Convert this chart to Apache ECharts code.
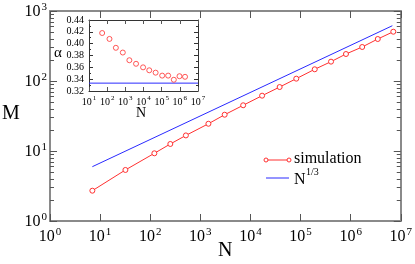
<!DOCTYPE html>
<html>
<head>
<meta charset="utf-8">
<script src="https://cdn.jsdelivr.net/npm/echarts@6/dist/echarts.min.js"></script>
<style>html,body{margin:0;padding:0;background:#fff}#c{width:415px;height:264px}</style>
</head>
<body>
<div id="c"></div>
<script>
// ---- data ----
const simN = [7, 32, 121, 252, 515, 1450, 3060, 7160, 17100, 38300, 82200, 192000, 406000, 807000, 1700000, 3480000, 7100000];
const simM = [2.71, 5.36, 9.27, 12.6, 16.7, 24.5, 33.0, 45.0, 61.7, 82.0, 108, 147, 189, 243, 306, 398, 506];
const refN = [7, 6800000];
const refM = [5.97, 616];
const insetN = [53, 134, 301, 726, 1667, 3881, 9484, 20750, 46450, 106700, 227500, 466700, 957200, 1936000];
const insetAlpha = [0.418, 0.408, 0.393, 0.385, 0.372, 0.366, 0.360, 0.355, 0.351, 0.346, 0.346, 0.339, 0.345, 0.344];
const insetRefN = [10, 10000000];
const insetRefAlpha = [0.3333, 0.3333];
const mainXTicks = [1, 10, 100, 1000, 10000, 100000, 1000000, 10000000];
const mainYTicks = [1, 10, 100, 1000];
const insetXTicks = [10, 100, 1000, 10000, 100000, 1000000, 10000000];
const insetYTicks = [0.32, 0.34, 0.36, 0.38, 0.40, 0.42, 0.44];

const FONT = 'Liberation Serif';
const RED = '#ff3030';
const BLUE = '#2a2aff';
const minorY = [];
for (let d = 1; d < 1000; d *= 10) for (let k = 2; k <= 9; k++) minorY.push(d * k);

function pow10(sizeB, sizeS) {
  return {
    formatter: v => '{b|10}{s|' + Math.round(Math.log10(v)) + '}',
    rich: {
      b: {fontFamily: FONT, fontSize: sizeB, color: '#000', verticalAlign: 'bottom', lineHeight: sizeB},
      s: {fontFamily: FONT, fontSize: sizeS, color: '#000', verticalAlign: 'top', lineHeight: sizeB + 2, padding: [0, 0, 0, 1]}
    }
  };
}

const axisCol = '#8a8a8a';
const chart = echarts.init(document.getElementById('c'), null, {renderer: 'canvas'});

function logX(grid, pos, ticks, min, max, withLabel, labelCfg, tickLen, lineStyle) {
  return {
    type: 'log', logBase: 10, gridIndex: grid, position: pos, min: min, max: max,
    axisLine: {show: true, lineStyle: lineStyle},
    axisTick: {show: true, inside: true, length: tickLen, customValues: ticks, lineStyle: {color: '#555', width: 1}},
    axisLabel: Object.assign({show: withLabel, customValues: ticks}, labelCfg || {}),
    splitLine: {show: false}
  };
}

const option = {
  animation: false,
  backgroundColor: '#fff',
  grid: [
    {left: 50, top: 11, width: 353, height: 210, show: false},
    {left: 89, top: 20, width: 109, height: 71, show: true, backgroundColor: '#fff', borderColor: 'transparent'}
  ],
  xAxis: [
    logX(0, 'bottom', mainXTicks, 1, 1e7, true, Object.assign({margin: 6}, pow10(16, 11)), 7, {color: axisCol, width: 2}),
    logX(0, 'top', mainXTicks, 1, 1e7, false, null, 7, {color: axisCol, width: 2}),
    logX(1, 'bottom', insetXTicks, 10, 1e7, true, Object.assign({margin: 4}, pow10(10, 7)), 4, {color: '#333', width: 1}),
    logX(1, 'top', insetXTicks, 10, 1e7, false, null, 4, {color: '#333', width: 1})
  ],
  yAxis: [
    {type: 'log', logBase: 10, gridIndex: 0, position: 'left', min: 1, max: 1000,
      axisLine: {show: true, lineStyle: {color: axisCol, width: 2}},
      axisTick: {show: true, inside: true, length: 7, customValues: mainYTicks, lineStyle: {color: '#555'}},
      axisLabel: Object.assign({show: true, customValues: mainYTicks, margin: 3}, pow10(16, 11)),
      splitLine: {show: false}},
    {type: 'log', logBase: 10, gridIndex: 0, position: 'left', min: 1, max: 1000,
      axisLine: {show: false},
      axisTick: {show: true, inside: true, length: 4, customValues: minorY, lineStyle: {color: '#555'}},
      axisLabel: {show: false}, splitLine: {show: false}},
    {type: 'log', logBase: 10, gridIndex: 0, position: 'right', min: 1, max: 1000,
      axisLine: {show: true, lineStyle: {color: axisCol, width: 2}},
      axisTick: {show: true, inside: true, length: 7, customValues: mainYTicks, lineStyle: {color: '#555'}},
      axisLabel: {show: false}, splitLine: {show: false}},
    {type: 'log', logBase: 10, gridIndex: 0, position: 'right', min: 1, max: 1000,
      axisLine: {show: false},
      axisTick: {show: true, inside: true, length: 4, customValues: minorY, lineStyle: {color: '#555'}},
      axisLabel: {show: false}, splitLine: {show: false}},
    {type: 'value', gridIndex: 1, position: 'left', min: 0.32, max: 0.44, interval: 0.02,
      axisLine: {show: true, lineStyle: {color: '#333', width: 1}},
      axisTick: {show: true, inside: true, length: 4, lineStyle: {color: '#333'}},
      minorTick: {show: true, splitNumber: 2, length: 2, lineStyle: {color: '#333'}},
      axisLabel: {show: true, margin: 5, fontFamily: FONT, fontSize: 10, color: '#000', formatter: v => v.toFixed(2)},
      splitLine: {show: false}},
    {type: 'value', gridIndex: 1, position: 'right', min: 0.32, max: 0.44, interval: 0.02,
      axisLine: {show: true, lineStyle: {color: '#333', width: 1}},
      axisTick: {show: true, inside: true, length: 4, lineStyle: {color: '#333'}},
      minorTick: {show: true, splitNumber: 2, length: 2, lineStyle: {color: '#333'}},
      axisLabel: {show: false}, splitLine: {show: false}}
  ],
  series: [
    {type: 'line', xAxisIndex: 0, yAxisIndex: 0, data: refN.map((n, i) => [n, refM[i]]),
      symbol: 'none', lineStyle: {color: BLUE, width: 1}, z: 3},
    {type: 'line', xAxisIndex: 0, yAxisIndex: 0, data: simN.map((n, i) => [n, simM[i]]),
      symbol: 'circle', symbolSize: 5, lineStyle: {color: RED, width: 1},
      itemStyle: {color: '#fff', borderColor: RED, borderWidth: 1}, z: 4},
    {type: 'line', xAxisIndex: 2, yAxisIndex: 4, data: insetRefN.map((n, i) => [n, insetRefAlpha[i]]),
      symbol: 'none', lineStyle: {color: BLUE, width: 1}, z: 5},
    {type: 'scatter', xAxisIndex: 2, yAxisIndex: 4, data: insetN.map((n, i) => [n, insetAlpha[i]]),
      symbol: 'circle', symbolSize: 5, itemStyle: {color: '#fff', borderColor: RED, borderWidth: 1}, z: 6}
  ],
  graphic: [
    {type: 'text', left: 2, top: 104, style: {text: 'M', font: '20px "Liberation Serif"', fill: '#000'}},
    {type: 'text', left: 218, top: 241, style: {text: 'N', font: '20px "Liberation Serif"', fill: '#000'}},
    {type: 'text', left: 54, top: 46, style: {text: 'α', font: '15px "Liberation Serif"', fill: '#000'}},
    {type: 'text', left: 136, top: 106, style: {text: 'N', font: '14px "Liberation Serif"', fill: '#000'}},
    {type: 'line', shape: {x1: 266, y1: 160, x2: 289, y2: 160}, style: {stroke: RED, lineWidth: 1}},
    {type: 'circle', shape: {cx: 266, cy: 160, r: 2}, style: {stroke: RED, fill: '#fff', lineWidth: 1}},
    {type: 'circle', shape: {cx: 289, cy: 160, r: 2}, style: {stroke: RED, fill: '#fff', lineWidth: 1}},
    {type: 'text', left: 294, top: 151, style: {text: 'simulation', font: '16px "Liberation Serif"', fill: '#000'}},
    {type: 'line', shape: {x1: 266, y1: 178, x2: 289, y2: 178}, style: {stroke: BLUE, lineWidth: 1}},
    {type: 'text', left: 294, top: 172, style: {text: 'N', font: '16px "Liberation Serif"', fill: '#000'}},
    {type: 'text', left: 306, top: 167, style: {text: '1/3', font: '10px "Liberation Serif"', fill: '#000'}}
  ]
};
chart.setOption(option);
</script>
</body>
</html>
